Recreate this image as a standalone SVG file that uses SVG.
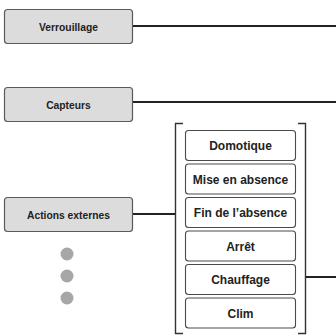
<svg xmlns="http://www.w3.org/2000/svg" width="336" height="336" viewBox="0 0 336 336">
<style>
.src{fill:#dcdcdd;stroke:#5a5a5a;stroke-width:1.2}
.opt{fill:#fff;stroke:#4a4a4a;stroke-width:1.1}
.t1{font-family:"Liberation Sans",Arial,sans-serif;font-weight:bold;font-size:10.3px;fill:#222;text-anchor:middle}
.t2{font-family:"Liberation Sans",Arial,sans-serif;font-weight:bold;font-size:12px;fill:#222;text-anchor:middle}
.ln{stroke:#222;stroke-width:2;fill:none}
.br{stroke:#333;stroke-width:1.4;fill:none}
.dot{fill:#a7a7aa}
</style>
<rect width="336" height="336" fill="#fff"/>
<g id="connectors">
<line class="ln" x1="133" y1="26" x2="336" y2="26"/>
<line class="ln" x1="133" y1="102" x2="336" y2="102"/>
<line class="ln" x1="133" y1="214" x2="175" y2="214"/>
<line class="ln" x1="306" y1="277" x2="336" y2="277"/>
</g>
<g id="verrouillage"><rect class="src" x="4.5" y="9.5" width="128" height="34" rx="3"/><text class="t1" x="68.5" y="30.5">Verrouillage</text></g>
<g id="capteurs"><rect class="src" x="4.5" y="87.5" width="128" height="34" rx="3"/><text class="t1" x="68.5" y="108.5">Capteurs</text></g>
<g id="actions"><rect class="src" x="4.5" y="197.5" width="128" height="34" rx="3"/><text class="t1" x="68.5" y="218.5">Actions externes</text></g>
<g id="dots"><circle class="dot" cx="67" cy="254" r="6.5"/><circle class="dot" cx="67" cy="276" r="6.5"/><circle class="dot" cx="67" cy="298" r="6.5"/></g>
<g id="bracket">
<path class="br" d="M183 123.5 H175.5 V333.5 H183"/>
<path class="br" d="M298 123.5 H305.5 V333.5 H298"/>
</g>
<g id="domotique"><rect class="opt" x="185.5" y="130.5" width="110" height="30" rx="3"/><text class="t2" x="240.5" y="150">Domotique</text></g>
<g id="absence"><rect class="opt" x="185.5" y="164" width="110" height="30" rx="3"/><text class="t2" x="240.5" y="183.5">Mise en absence</text></g>
<g id="fin"><rect class="opt" x="185.5" y="197.5" width="110" height="30" rx="3"/><text class="t2" x="240.5" y="217">Fin de l’absence</text></g>
<g id="arret"><rect class="opt" x="185.5" y="231" width="110" height="30" rx="3"/><text class="t2" x="240.5" y="250.5">Arrêt</text></g>
<g id="chauffage"><rect class="opt" x="185.5" y="264.5" width="110" height="30" rx="3"/><text class="t2" x="240.5" y="284">Chauffage</text></g>
<g id="clim"><rect class="opt" x="185.5" y="298" width="110" height="30" rx="3"/><text class="t2" x="240.5" y="317.5">Clim</text></g>
</svg>
